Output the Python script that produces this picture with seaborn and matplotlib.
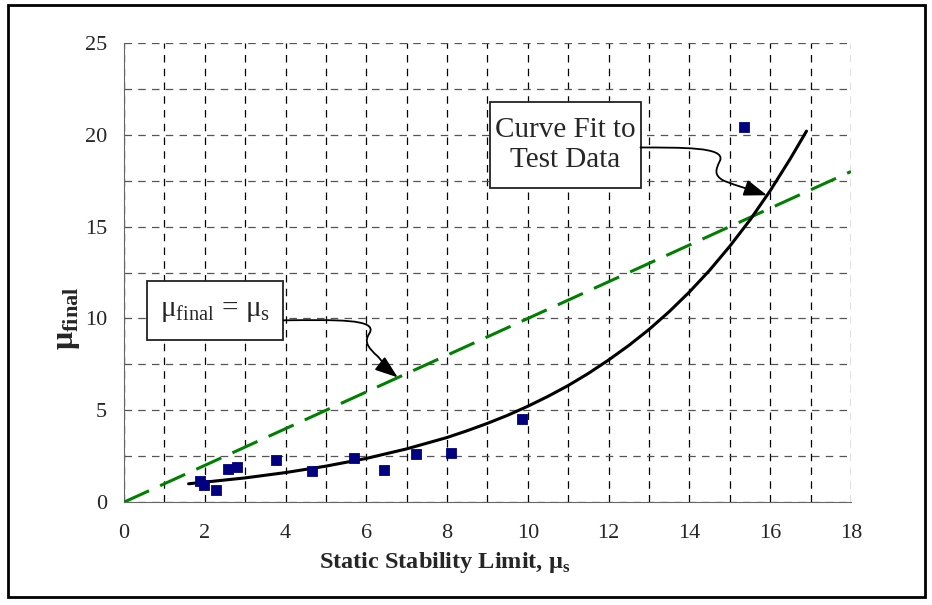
import numpy as np
import pandas as pd
import matplotlib
matplotlib.use('Agg')
import matplotlib.pyplot as plt
import seaborn as sns
from matplotlib.patches import Rectangle, FancyArrowPatch
from matplotlib.path import Path
from matplotlib.ticker import MultipleLocator

# test data points (static limit vs final)
mu_s_test = [1.88, 1.99, 2.29, 2.57, 2.79, 3.76, 4.65, 5.70, 6.45, 7.24, 8.09, 9.85, 15.35]
mu_final_test = [1.14, 0.96, 0.64, 1.80, 1.91, 2.27, 1.69, 2.42, 1.74, 2.62, 2.67, 4.52, 20.44]

# curve fit
fit_x = [1.6, 2, 3, 4, 5, 6, 7, 8, 8.5, 9, 9.5, 10, 10.5, 11, 11.5, 12, 12.5,
         13, 13.5, 14, 14.5, 15, 15.5, 16, 16.5, 16.9]
fit_y = [1.00, 1.09, 1.32, 1.61, 1.96, 2.38, 2.90, 3.52, 3.89, 4.29, 4.73, 5.22, 5.76,
         6.35, 7.01, 7.74, 8.53, 9.40, 10.37, 11.44, 12.62, 13.93, 15.36, 16.95, 18.70, 20.2]

# mu_final = mu_s reference line
ref_x = [0, 18]
ref_y = [0, 18]

sns.set_style("white")
plt.rcParams['font.family'] = ['Liberation Serif', 'DejaVu Serif']
plt.rcParams['mathtext.fontset'] = 'custom'
plt.rcParams['mathtext.rm'] = 'Liberation Serif'

fig = plt.figure(figsize=(9.32, 6.05), dpi=100)
ax = fig.add_axes([0.133, 0.170, 0.780, 0.759])

# outer frame
fig.patches.append(Rectangle((0.009, 0.013), 0.983, 0.978, transform=fig.transFigure,
                             fill=False, edgecolor='black', linewidth=2))

sns.lineplot(x=ref_x, y=ref_y, ax=ax, color='#008000', linewidth=2.2, zorder=3)
ax.lines[-1].set_dashes([9, 4])
sns.lineplot(x=fit_x, y=fit_y, ax=ax, color='black', linewidth=2.2, zorder=4)
ax.lines[-1].set_solid_joinstyle('round')
sns.scatterplot(x=mu_s_test, y=mu_final_test, ax=ax, marker='s', s=55,
                color='#000080', edgecolor='#000080', zorder=5)

ax.set_xlim(0, 18)
ax.set_ylim(0, 25)
ax.xaxis.set_major_locator(MultipleLocator(2))
ax.xaxis.set_minor_locator(MultipleLocator(1))
ax.yaxis.set_major_locator(MultipleLocator(5))
ax.yaxis.set_minor_locator(MultipleLocator(2.5))
ax.grid(which='both', axis='x', color='black', linestyle=(0, (6, 5)), linewidth=0.9)
ax.grid(which='both', axis='y', color='#555555', linestyle=(0, (6, 5)), linewidth=0.9)
ax.set_axisbelow(True)

for s in ['top', 'right']:
    ax.spines[s].set_visible(False)
ax.spines['left'].set_color('#666666')
ax.spines['bottom'].set_color('#666666')
ax.tick_params(axis='both', which='major', direction='out', length=5, width=1,
               color='#666666', labelsize=16)
ax.tick_params(axis='y', which='major', pad=7)
ax.tick_params(axis='x', which='major', length=3, pad=13)
ax.tick_params(which='minor', length=0)

ax.set_xlabel(r'Static Stability Limit, μ$_{\mathregular{s}}$', fontsize=17.5,
              fontweight='bold')
ax.xaxis.set_label_coords(0.441, -0.105)
ax.set_ylabel(r'μ$_{\mathregular{final}}$', fontsize=23, fontweight='bold')
ax.yaxis.set_label_coords(-0.058, 0.40)

# annotation boxes
for (x0, y0, w, h) in [(0.57, 8.81, 3.37, 3.22), (9.06, 17.10, 3.73, 4.68)]:
    ax.add_patch(Rectangle((x0, y0), w, h, facecolor='white', edgecolor='#222222',
                           linewidth=1.3, zorder=6))
ax.text(2.25, 10.42, r'μ$_{\mathregular{final}}$ = μ$_{\mathregular{s}}$', fontsize=21,
        ha='center', va='center', zorder=7)
ax.text(10.92, 19.44, 'Curve Fit to\nTest Data', fontsize=21, ha='center', va='center',
        linespacing=1.2, zorder=7)

# wavy arrows from the boxes
codes = [Path.MOVETO] + [Path.CURVE4] * 9
arr1 = Path([(3.96, 9.90), (5.2, 9.92), (6.3, 10.0), (6.08, 9.2),
             (5.95, 8.75), (6.0, 8.5), (6.3, 7.9),
             (6.45, 7.5), (6.6, 7.1), (6.78, 6.79)], codes)
arr2 = Path([(12.79, 19.31), (13.8, 19.30), (14.9, 19.35), (14.76, 18.6),
             (14.65, 18.1), (14.6, 17.8), (14.85, 17.5),
             (15.2, 17.2), (15.6, 16.95), (15.92, 16.71)], codes)
for p in (arr1, arr2):
    ax.add_patch(FancyArrowPatch(path=p, arrowstyle='-|>,head_length=14,head_width=5',
                                 color='black', linewidth=1.3, zorder=8))

fig.savefig('out.png', dpi=100)
